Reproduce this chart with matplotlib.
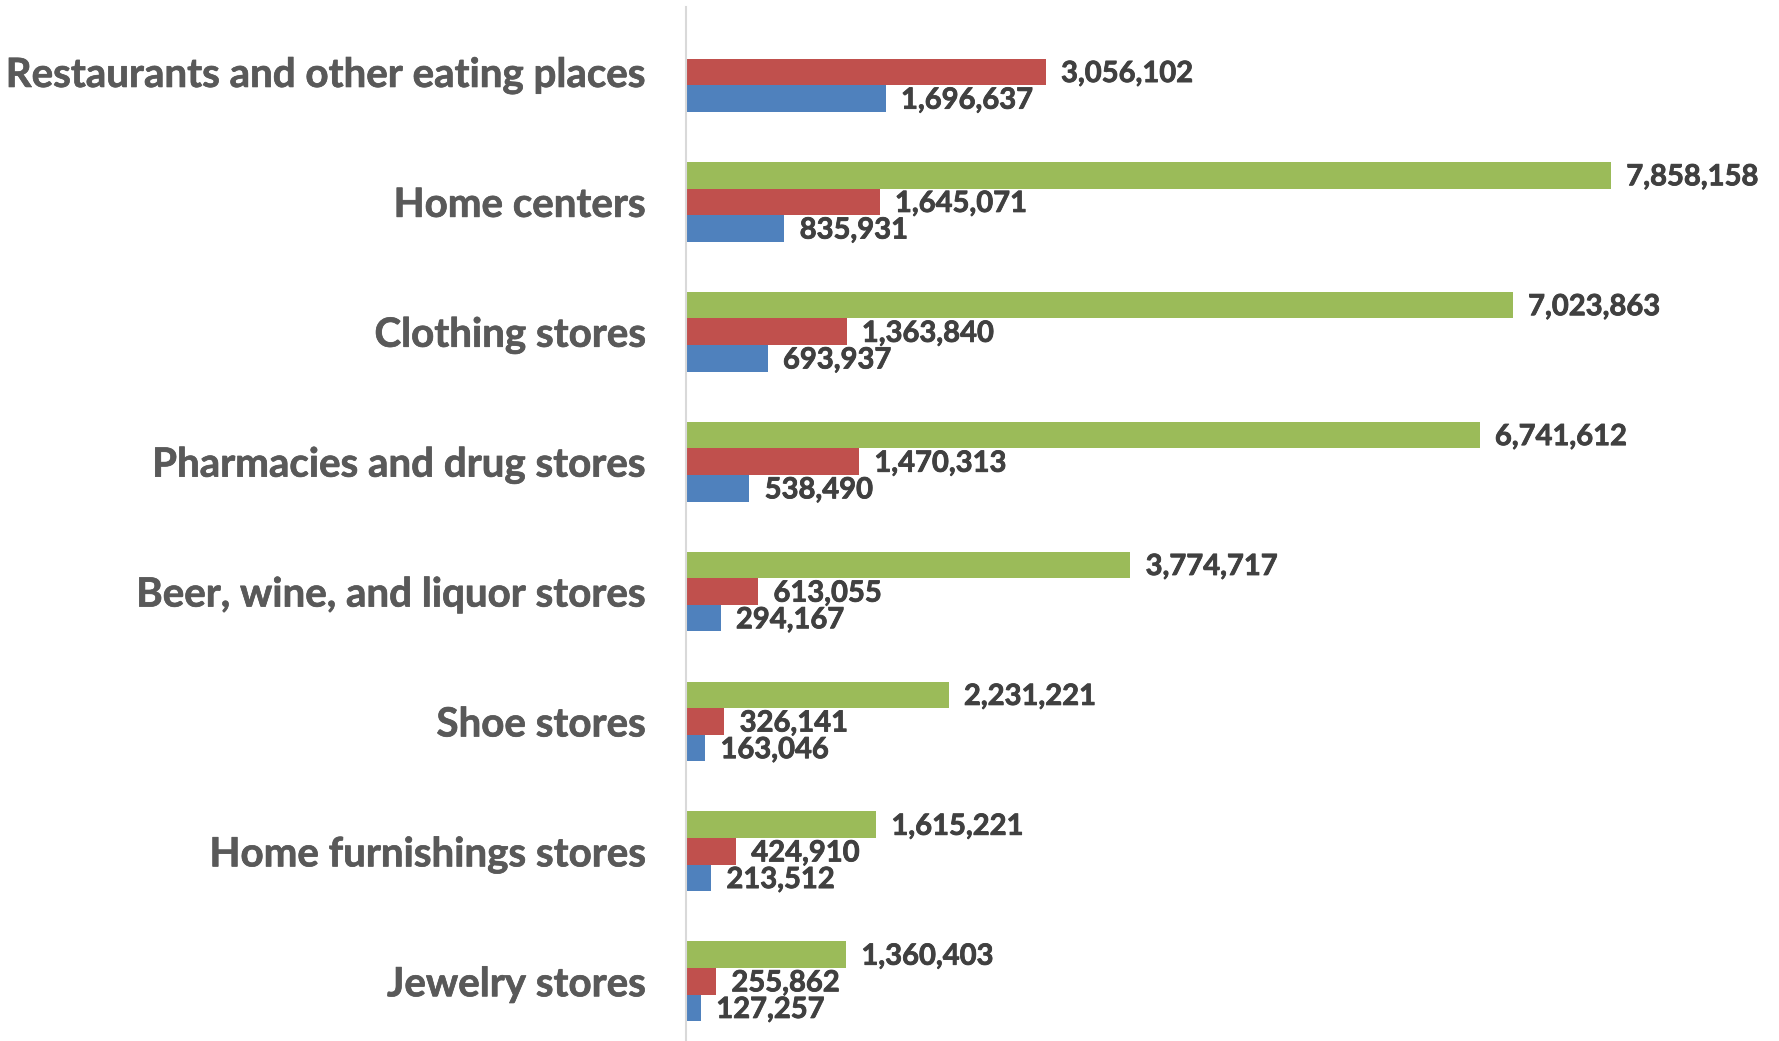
import numpy as np
import matplotlib
matplotlib.use("Agg")
import matplotlib.pyplot as plt
import matplotlib.patheffects as pe

# store categories, top to bottom
categories = [
    "Restaurants and other eating places",
    "Home centers",
    "Clothing stores",
    "Pharmacies and drug stores",
    "Beer, wine, and liquor stores",
    "Shoe stores",
    "Home furnishings stores",
    "Jewelry stores",
]
# three series per category (top bar, middle bar, bottom bar)
green_vals = [np.nan, 7858158, 7023863, 6741612, 3774717, 2231221, 1615221, 1360403]
red_vals = [3056102, 1645071, 1363840, 1470313, 613055, 326141, 424910, 255862]
blue_vals = [1696637, 835931, 693937, 538490, 294167, 163046, 213512, 127257]

colors = ["#9BBB59", "#C0504D", "#4F81BD"]
W, H = 1779, 1041

plt.rcParams["font.family"] = ["Lato", "DejaVu Sans"]
fig = plt.figure(figsize=(W / 100, H / 100), dpi=100)
ax = fig.add_axes([686 / W, 0, (1769 - 686) / W, 1034 / H])

y = np.arange(len(categories))
h = 0.205
for vals, off, col in zip([green_vals, red_vals, blue_vals], [-h, 0, h], colors):
    ax.barh(y + off, vals, height=h, color=col, zorder=2)
    for yi, v in zip(y + off, vals):
        if np.isnan(v):
            continue
        ax.annotate(f"{v:,.0f}", (v, yi), xytext=(11, -1.5), textcoords="offset points",
                    ha="left", va="center", fontsize=21, fontweight="bold",
                    color="#404040",
                    path_effects=[pe.withStroke(linewidth=0.6, foreground="#404040")])

ax.set_xlim(0, 9.2e6)
ax.set_ylim(7.46, -0.5)
ax.set_yticks(y)
ax.set_yticklabels(categories, fontsize=29, fontweight="bold", color="#595959")
for lbl in ax.get_yticklabels():
    lbl.set_path_effects([pe.withStroke(linewidth=0.5, foreground="#595959")])
ax.tick_params(axis="y", length=0, pad=29)
ax.set_xticks([])
for s in ["top", "right", "bottom"]:
    ax.spines[s].set_visible(False)
ax.spines["left"].set_color("#D9D9D9")
ax.spines["left"].set_linewidth(1.5)

fig.savefig("out.png", dpi=100)
